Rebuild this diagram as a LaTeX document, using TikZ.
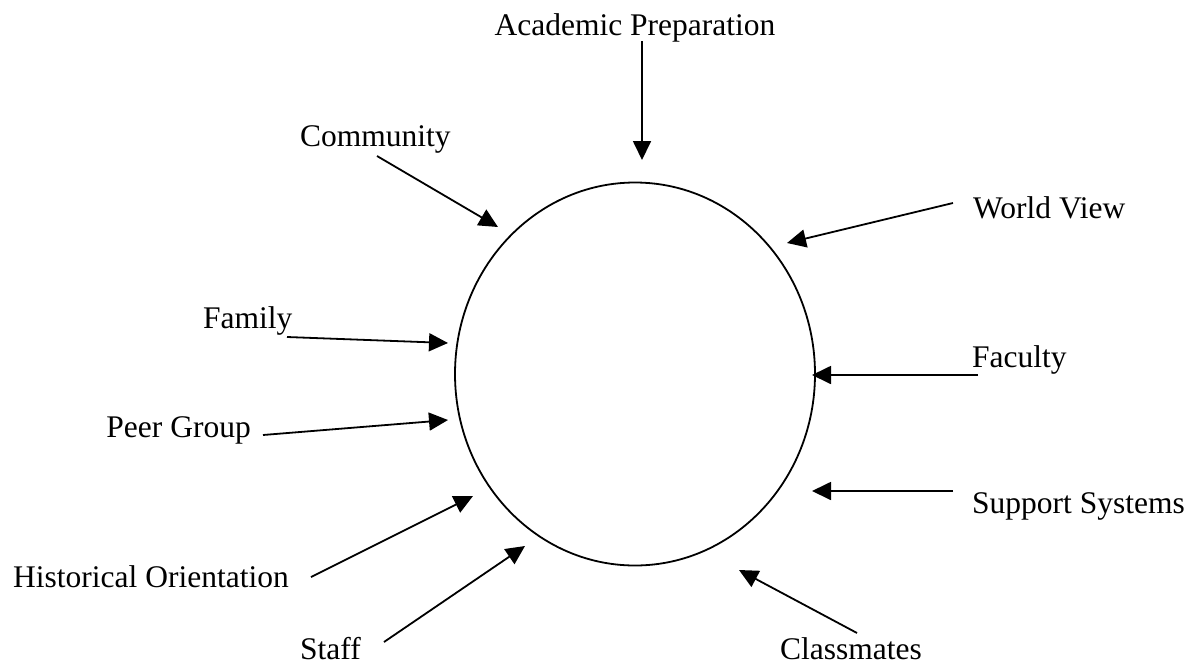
\documentclass[tikz,border=0pt]{standalone}
\usepackage{fontspec}
\setmainfont{Liberation Serif}
\usepackage{tikz}
\usetikzlibrary{arrows.meta, shapes.geometric}

\begin{document}
\begin{tikzpicture}[x=1pt, y=-1pt,
    lbl/.style={inner sep=0pt, font=\fontsize{31.5}{36}\selectfont},
    feed/.style={line width=1.8pt, -{Triangle[length=19pt, width=18pt]}}]
        \useasboundingbox (0,0) rectangle (1191,664);
        \node (core) [draw, line width=1.8pt, ellipse, minimum width=360pt, minimum height=383pt] at (635,374) {};
        % labels round the circle
        \node (acad)  [lbl, anchor=base]      at (635,35)  {Academic Preparation};
        \node (comm)  [lbl, anchor=base west] at (300,146) {Community};
        \node (world) [lbl, anchor=base west] at (973,218) {World View};
        \node (fam)   [lbl, anchor=base west] at (203,328) {Family};
        \node (peer)  [lbl, anchor=base east] at (251,437) {Peer Group};
        \node (fac)   [lbl, anchor=base west] at (972,367) {Faculty};
        \node (supp)  [lbl, anchor=base west] at (972,513) {Support Systems};
        \node (hist)  [lbl, anchor=base west] at (13,587)  {Historical Orientation};
        \node (staff) [lbl, anchor=base west] at (300,659) {Staff};
        \node (class) [lbl, anchor=base west] at (780,659) {Classmates};
        % tails and heads of the arrows
        \coordinate (acad-t)  at (642,41);  \coordinate (acad-h)  at (642,160);
        \coordinate (comm-t)  at (377,156); \coordinate (comm-h)  at (498,227);
        \coordinate (world-t) at (953,203); \coordinate (world-h) at (787,243);
        \coordinate (fam-t)   at (287,337); \coordinate (fam-h)   at (448,343);
        \coordinate (peer-t)  at (263,435); \coordinate (peer-h)  at (448,420);
        \coordinate (fac-t)   at (978,375); \coordinate (fac-h)   at (812,375);
        \coordinate (supp-t)  at (953,491); \coordinate (supp-h)  at (812,491);
        \coordinate (hist-t)  at (311,577); \coordinate (hist-h)  at (473,496);
        \coordinate (staff-t) at (384,642); \coordinate (staff-h) at (525,546);
        \coordinate (class-t) at (857,633); \coordinate (class-h) at (739,570);
        \foreach \n in {acad,comm,world,fam,peer,fac,supp,hist,staff,class}
          \draw[feed] (\n-t) -- (\n-h);
      \end{tikzpicture}
\end{document}
